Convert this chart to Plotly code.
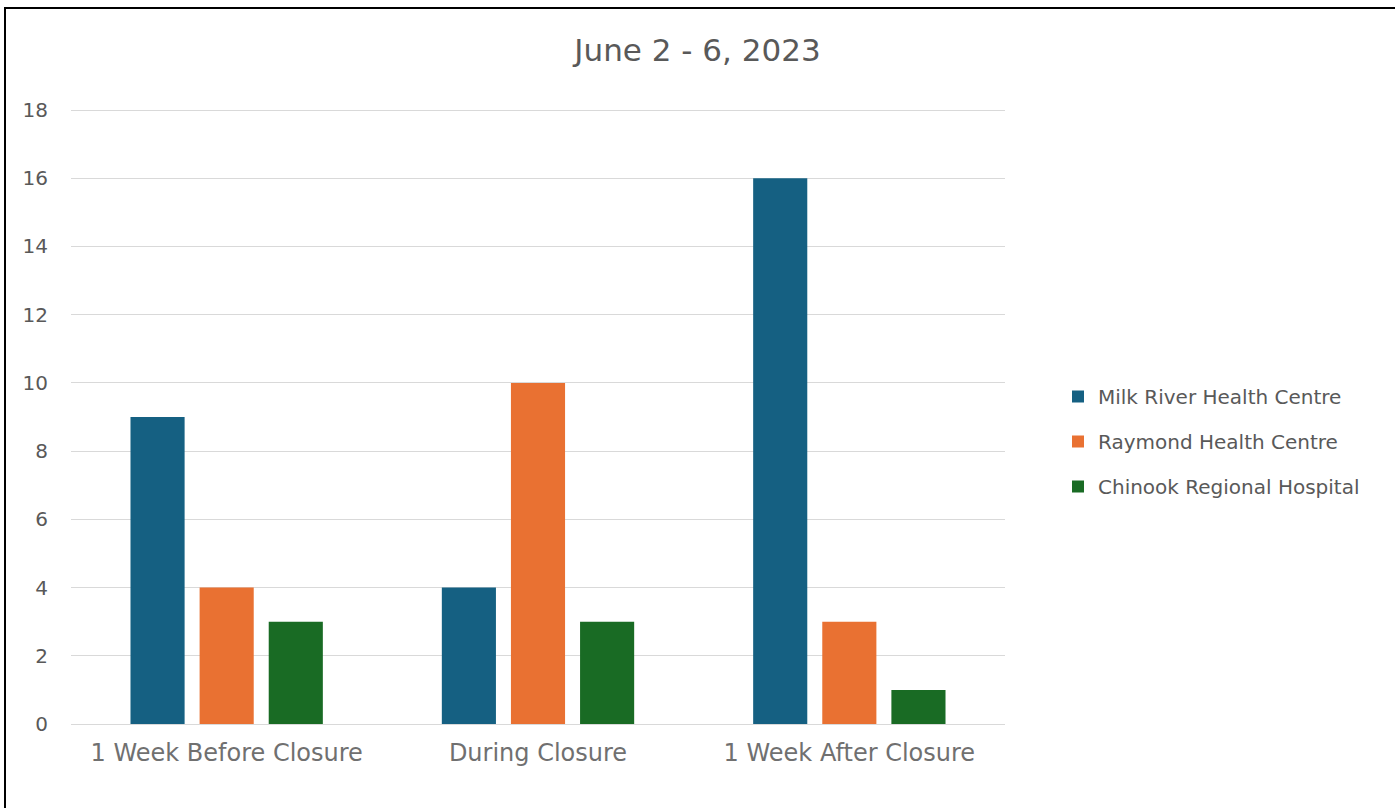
import plotly.graph_objects as go

categories = ["1 Week Before Closure", "During Closure", "1 Week After Closure"]
series_names = ["Milk River Health Centre", "Raymond Health Centre", "Chinook Regional Hospital"]
milk_river = [9, 4, 16]
raymond = [4, 10, 3]
chinook = [3, 3, 1]
colors = ["#156082", "#E97132", "#196B24"]
y_ticks = [0, 2, 4, 6, 8, 10, 12, 14, 16, 18]
title_text = "June 2 - 6, 2023"

W, H = 1395, 808
L, R, T, B = 71, 390, 109, 84
pw = W - L - R
ph = H - T - B

fig = go.Figure()
for i, (name, vals) in enumerate(zip(series_names, [milk_river, raymond, chinook])):
    fig.add_trace(go.Bar(
        x=categories, y=vals, name=name,
        marker=dict(color=colors[i], line=dict(width=0)),
        legendgroup=f"g{i}",
    ))

def px_x(px):
    return (px - L) / pw

def px_y(py):
    return (H - B - py) / ph

fig.add_shape(type="rect", xref="paper", yref="paper",
              x0=px_x(5), x1=px_x(1420), y0=px_y(830), y1=px_y(8),
              line=dict(color="black", width=2), fillcolor="rgba(0,0,0,0)", layer="above")

fig.update_layout(
    width=W, height=H,
    margin=dict(l=L, r=R, t=T, b=B),
    paper_bgcolor="white", plot_bgcolor="white",
    barmode="group", bargap=0.334, bargroupgap=0.217,
    title=dict(text=title_text, x=0.5, xref="container", xanchor="center",
               y=1 - 50 / H, yref="container", yanchor="middle",
               font=dict(family="DejaVu Sans", size=31, color="#595959")),
    legend=dict(x=px_x(1058), xanchor="left", y=px_y(377), yanchor="top",
                traceorder="grouped", tracegroupgap=16,
                font=dict(family="DejaVu Sans", size=20, color="#595959"),
                itemwidth=30, bgcolor="rgba(0,0,0,0)"),
    xaxis=dict(showgrid=False, showline=False, ticks="", ticklabelstandoff=12,
               tickfont=dict(family="DejaVu Sans", size=24, color="#707070")),
    yaxis=dict(range=[0, 18.03], tickvals=y_ticks, showgrid=True, gridcolor="#D9D9D9", gridwidth=1,
               zeroline=True, zerolinecolor="#D9D9D9", zerolinewidth=1,
               showline=False, ticks="", ticklabelstandoff=22,
               tickfont=dict(family="DejaVu Sans", size=20, color="#595959")),
)

fig.write_html("out.html", config={"displayModeBar": False},
               post_script="document.body.style.margin='0px';")
